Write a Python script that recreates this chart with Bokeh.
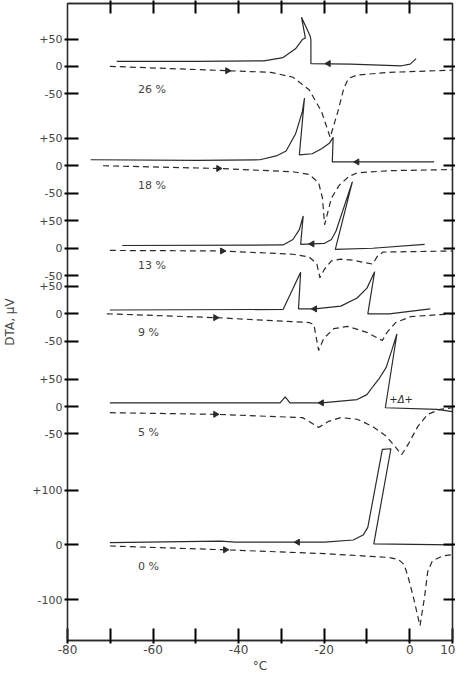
import math
from bokeh.plotting import figure
from bokeh.models import LinearAxis, FixedTicker, ColumnDataSource
from bokeh.embed import file_html
from bokeh.resources import INLINE
from bokeh.core.properties import value

# ---------------- data ----------------
panels = ["26 %", "18 %", "13 %", "9 %", "5 %", "0 %"]
# vertical baseline position of each trace (layout, in uV-units of the stacked chart)
panel_offsets = [1051, 869, 718, 598, 428, 175]
dta_ticks = [[50, 0, -50], [50, 0, -50], [50, 0, -50], [50, 0, -50], [50, 0, -50], [100, 0, -100]]
dta_tick_labels = [["+50", "0", "-50"]] * 5 + [["+100", "0", "-100"]]

temp_label_ticks = [-80, -60, -40, -20, 0, 10]
temp_label_text = ["-80", "-60", "-40", "-20", "0", "10"]
temp_minor_ticks = [-70, -50, -30, -10]

# cooling runs (solid) and heating runs (dashed): temperature (degC) and DTA (uV)
cool_26_t = [-68.5, -49.8, -34.1, -29.6, -26.7, -25.1, -24.4, -25.3, -23.3, -23.1, -23.1, -13.8, -1.9, 0.1, 1.5]
cool_26_uv = [9, 9, 10, 16, 32, 49, 52, 90, 56, 49, 5, 4, 1, 4, 14]
heat_26_t = [-70.1, -42.6, -32.5, -27.3, -23.5, -20.6, -18.6, -16.8, -15.4, -14.3, -12.3, -4.8, 10]
heat_26_uv = [0, -8, -11, -20, -43, -83, -130, -83, -40, -22, -16, -11, -7]

cool_18_t = [-74.6, -49.8, -35.0, -31.2, -28.9, -26.7, -25.1, -24.6, -25.8, -22.8, -20.6, -18.8, -17.9, -18.1, 5.7]
cool_18_uv = [11, 10, 11, 18, 27, 58, 99, 124, 20, 22, 31, 41, 52, 7, 7]
heat_18_t = [-71.7, -44.7, -27.3, -23.5, -21.3, -20.4, -19.9, -18.3, -16.5, -14.3, -12.3, -4.8, 9.8]
heat_18_uv = [0, -5, -11, -16, -31, -59, -108, -59, -36, -20, -13, -9, -7]

cool_13_t = [-67.2, -29.6, -27.3, -25.8, -24.9, -25.5, -19.9, -18.3, -17.2, -13.4, -17.4, -8.7, 3.5]
cool_13_uv = [5, 6, 16, 34, 59, 7, 9, 16, 32, 122, -2, 0, 7]
heat_13_t = [-70.1, -43.8, -27.3, -23.5, -21.7, -21.0, -19.9, -18.3, -16.1, -13.2, -8.7, -7.5, -6.2, 10]
heat_13_uv = [-4, -5, -11, -16, -29, -54, -38, -23, -20, -22, -29, -14, -7, -5]

cool_9_t = [-70.1, -29.6, -25.5, -26.0, -22.2, -16.1, -12.3, -10.0, -8.2, -9.8, -4.8, 4.8]
cool_9_uv = [7, 8, 76, 9, 9, 14, 29, 47, 77, 0, 0, 9]
heat_9_t = [-70.8, -45.4, -23.5, -22.4, -21.3, -20.1, -17.7, -14.5, -10.0, -6.4, -5.3, -3.3, 0.3, 10]
heat_9_uv = [0, -7, -16, -20, -67, -45, -27, -23, -34, -49, -34, -16, -5, 0]

cool_5_t = [-70.1, -30.3, -29.1, -28.0, -20.6, -12.3, -10.0, -8.7, -7.1, -5.5, -4.2, -3.0, -5.7, 6.4, 10]
cool_5_uv = [7, 7, 18, 7, 7, 13, 22, 36, 52, 72, 103, 133, -2, -5, -9]
heat_5_t = [-70.1, -45.4, -25.1, -23.5, -21.3, -19.0, -16.1, -12.3, -8.7, -5.5, -3.3, -1.9, -0.3, 1.9, 4.2, 7.1, 10]
heat_5_uv = [-11, -14, -20, -27, -38, -27, -20, -23, -36, -54, -74, -88, -68, -36, -14, -5, -2]

cool_0_t = [-70.1, -44.2, -40.8, -19.9, -13.2, -10.9, -9.8, -6.4, -4.4, -8.4, 10]
cool_0_uv = [4, 7, 5, 5, 9, 18, 32, 175, 176, 2, 0]
heat_0_t = [-70.1, -43.1, -19.9, -4.8, -2.6, -1.3, -0.4, 0.8, 2.4, 3.5, 4.2, 5.3, 7.8, 10]
heat_0_uv = [-2, -9, -16, -23, -27, -36, -58, -94, -148, -94, -49, -29, -20, -18]

cool_arrow_t = [-19.0, -12.3, -22.8, -22.2, -20.6, -26.2]
cool_arrow_uv = [5, 7, 8, 9, 7, 5]
heat_arrow_t = [-42.6, -44.7, -43.8, -45.4, -45.4, -43.1]
heat_arrow_uv = [-8, -5, -5, -7, -14, -9]

label_t = [-63.5] * 6
label_uv = [-43, -36, -32, -34, -47, -40]

mark_text = "+Δ+"
mark_t = -2.0
mark_uv = 13  # in the 5 % trace

cool_t = [cool_26_t, cool_18_t, cool_13_t, cool_9_t, cool_5_t, cool_0_t]
cool_uv = [cool_26_uv, cool_18_uv, cool_13_uv, cool_9_uv, cool_5_uv, cool_0_uv]
heat_t = [heat_26_t, heat_18_t, heat_13_t, heat_9_t, heat_5_t, heat_0_t]
heat_uv = [heat_26_uv, heat_18_uv, heat_13_uv, heat_9_uv, heat_5_uv, heat_0_uv]

# ---------------- styling ----------------
INK = "#2a2a2a"
TXT = "#444444"
FONT = "DejaVu Sans"

p = figure(width=455, height=675, x_range=(-80, 10), y_range=(0, 1166),
           output_backend="svg", toolbar_location=None,
           min_border_left=58, min_border_right=0, min_border_top=0, min_border_bottom=0)
p.grid.visible = False
p.outline_line_color = INK
p.outline_line_width = 1.3
p.background_fill_color = "white"
p.border_fill_color = "white"

for i in range(6):
    off = panel_offsets[i]
    p.line(cool_t[i], [off + v for v in cool_uv[i]], line_color=INK, line_width=1.2)
    p.line(heat_t[i], [off + v for v in heat_uv[i]], line_color=INK, line_width=1.2,
           line_dash="6 4")

p.scatter(cool_arrow_t, [panel_offsets[i] + cool_arrow_uv[i] for i in range(6)],
          marker="triangle", angle=math.pi / 2, size=6, color=INK)
p.scatter(heat_arrow_t, [panel_offsets[i] + heat_arrow_uv[i] for i in range(6)],
          marker="triangle", angle=-math.pi / 2, size=6, color=INK)

lab_src = ColumnDataSource(dict(x=label_t, y=[panel_offsets[i] + label_uv[i] for i in range(6)], t=panels))
p.text(x="x", y="y", text="t", source=lab_src, text_font=value(FONT), text_font_size="11px",
       text_color=TXT, text_baseline="middle", text_align="left")
p.text(x=[mark_t], y=[panel_offsets[4] + mark_uv], text=[mark_text], text_font=value(FONT),
       text_font_size="10px", text_color=INK, text_baseline="middle", text_align="center",
       text_font_style="italic")

# y ticks for every trace
ytick_pos = []
ytick_over = {}
for i in range(6):
    for v, lab in zip(dta_ticks[i], dta_tick_labels[i]):
        pos = panel_offsets[i] + v
        ytick_pos.append(pos)
        ytick_over[pos] = lab


def style_axis(ax, tick_len):
    ax.axis_line_color = INK
    ax.axis_line_width = 1.3
    ax.major_tick_line_color = "black"
    ax.major_tick_line_width = 2
    ax.major_tick_in = tick_len
    ax.major_tick_out = 3
    ax.minor_tick_line_color = "black"
    ax.minor_tick_line_width = 2
    ax.minor_tick_in = tick_len
    ax.minor_tick_out = 3
    ax.major_label_text_font = FONT
    ax.major_label_text_color = TXT
    ax.axis_label_text_font = FONT
    ax.axis_label_text_font_style = "normal"
    ax.axis_label_text_color = TXT


left = p.yaxis[0]
style_axis(left, 11)
left.ticker = FixedTicker(ticks=ytick_pos)
left.major_label_overrides = ytick_over
left.major_label_text_font_size = "11px"
left.major_label_standoff = 2
left.axis_label = "DTA, μV"
left.axis_label_text_font_size = "12px"
left.axis_label_standoff = 12

bottom = p.xaxis[0]
style_axis(bottom, 12)
bottom.ticker = FixedTicker(ticks=temp_label_ticks, minor_ticks=temp_minor_ticks)
bottom.major_label_overrides = dict(zip(temp_label_ticks, temp_label_text))
bottom.major_label_text_font_size = "12px"
bottom.major_label_standoff = 1
bottom.axis_label = "°C"
bottom.axis_label_text_font_size = "12px"
bottom.axis_label_standoff = 2

# unlabelled tick marks on the right and top edges (minor ticks only -> no labels)
right = LinearAxis(ticker=FixedTicker(ticks=[], minor_ticks=ytick_pos))
style_axis(right, 9)
right.major_label_standoff = 0
p.add_layout(right, "right")

top = LinearAxis(ticker=FixedTicker(ticks=[], minor_ticks=temp_minor_ticks + [-60, -40, -20, 0]))
style_axis(top, 10)
top.major_label_standoff = 0
p.add_layout(top, "above")

open("out.html", "w").write(file_html(p, INLINE))
